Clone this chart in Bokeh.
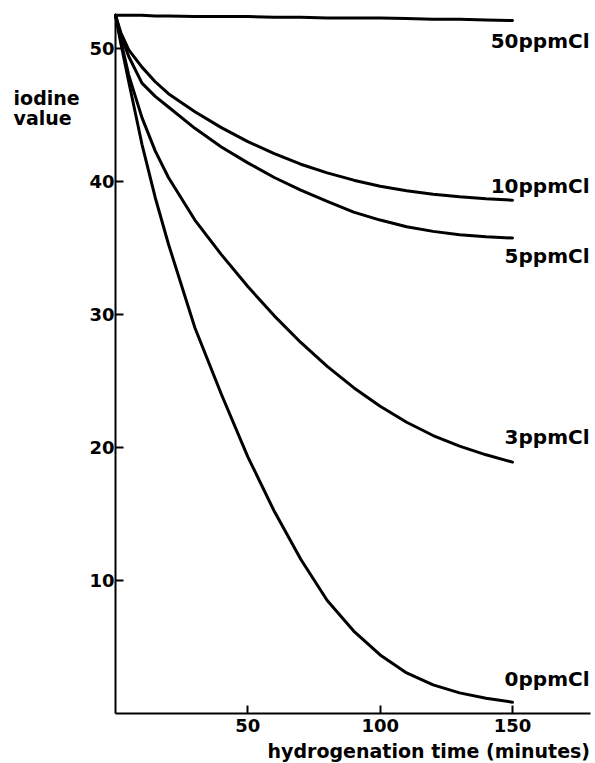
from bokeh.plotting import figure
from bokeh.models import ColumnDataSource, Label, FixedTicker, Range1d
from bokeh.core.properties import value
from bokeh.embed import file_html
from bokeh.resources import INLINE

# ---- data ----
time_min = [0, 2, 5, 10, 15, 20, 30, 40, 50, 60, 70, 80, 90, 100, 110, 120, 130, 140, 150]
iv_0ppm = [52.5, 50.4, 47.5, 42.8, 38.8, 35.3, 29.0, 24.0, 19.3, 15.2, 11.6, 8.5, 6.2, 4.4, 3.05, 2.15, 1.55, 1.15, 0.85]
iv_3ppm = [52.5, 50.6, 48.0, 44.8, 42.3, 40.3, 37.1, 34.5, 32.1, 29.9, 27.9, 26.1, 24.5, 23.1, 21.9, 20.9, 20.1, 19.45, 18.9]
iv_5ppm = [52.5, 51.0, 49.4, 47.4, 46.4, 45.6, 44.0, 42.6, 41.4, 40.3, 39.35, 38.5, 37.7, 37.1, 36.6, 36.25, 36.0, 35.85, 35.75]
iv_10ppm = [52.5, 51.2, 49.9, 48.6, 47.5, 46.6, 45.25, 44.05, 43.0, 42.1, 41.3, 40.65, 40.1, 39.65, 39.3, 39.05, 38.85, 38.7, 38.6]
iv_50ppm = [52.5, 52.5, 52.5, 52.5, 52.45, 52.45, 52.4, 52.4, 52.4, 52.35, 52.35, 52.3, 52.3, 52.3, 52.25, 52.2, 52.2, 52.15, 52.1]

series_names = ["0ppmCl", "3ppmCl", "5ppmCl", "10ppmCl", "50ppmCl"]
series_values = [iv_0ppm, iv_3ppm, iv_5ppm, iv_10ppm, iv_50ppm]

x_ticks = [50, 100, 150]
y_ticks = [10, 20, 30, 40, 50]
x_axis_extent = (0, 179.3)
y_axis_extent = (0, 52.5)
x_title = "hydrogenation time (minutes)"
y_title = ["iodine", "value"]

# ---- styling / placement ----
label_dx = 77                       # px right of curve end
label_dy = [-23, -25, 18, -14, 20]  # px below curve end
FONT = "DejaVu Sans"

W, H = 595, 763
p = figure(width=W, height=H,
           x_range=Range1d(-43.45, 181.36), y_range=Range1d(-3.76, 53.61),
           output_backend="svg", toolbar_location=None,
           min_border_left=0, min_border_right=0,
           min_border_top=0, min_border_bottom=0)

p.background_fill_color = "white"
p.border_fill_color = "white"
p.outline_line_color = None
p.grid.visible = False

for vals in series_values:
    p.line(time_min, vals, line_color="black", line_width=3,
           line_cap="round", line_join="round")

end_src = ColumnDataSource(dict(
    x=[time_min[-1]] * len(series_values),
    y=[v[-1] for v in series_values],
    name=series_names,
    dy=label_dy,
))
p.text(x="x", y="y", text="name", source=end_src,
       x_offset=label_dx, y_offset="dy",
       text_align="right", text_baseline="alphabetic",
       text_font=value(FONT), text_font_style="bold",
       text_font_size="20px", text_color="black")

xax, yax = p.xaxis[0], p.yaxis[0]
for ax in (xax, yax):
    ax.fixed_location = 0
    ax.axis_line_color = "black"
    ax.axis_line_width = 2
    ax.major_tick_line_color = "black"
    ax.major_tick_line_width = 2
    ax.major_tick_in = 8
    ax.major_tick_out = 0
    ax.minor_tick_line_color = None
    ax.major_label_text_font = FONT
    ax.major_label_text_font_style = "bold"
    ax.major_label_text_font_size = "18px"
    ax.major_label_text_color = "black"

xax.bounds = x_axis_extent
yax.bounds = y_axis_extent
xax.ticker = FixedTicker(ticks=x_ticks)
yax.ticker = FixedTicker(ticks=y_ticks)
xax.major_label_standoff = 6
yax.major_label_standoff = 1

title_style = dict(text_font=FONT, text_font_style="bold",
                   text_font_size="19px", text_color="black",
                   text_baseline="alphabetic")
p.add_layout(Label(x=x_axis_extent[1], y=-2.85, text=x_title,
                   text_align="right", **title_style))
p.add_layout(Label(x=-38.5, y=46.3, text=y_title[0],
                   text_align="left", **title_style))
p.add_layout(Label(x=-38.5, y=44.8, text=y_title[1],
                   text_align="left", **title_style))

open("out.html", "w").write(file_html(p, INLINE))
